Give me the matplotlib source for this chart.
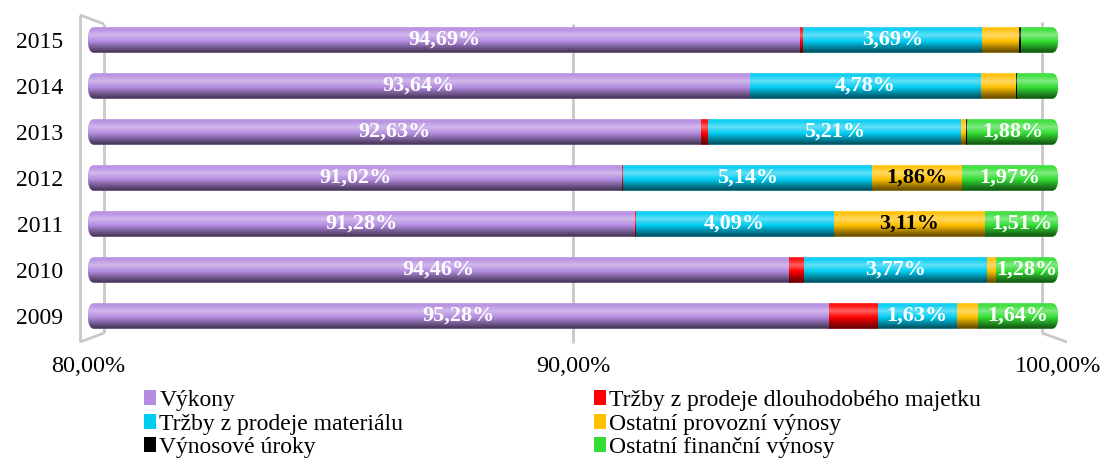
import numpy as np
import matplotlib
matplotlib.use('Agg')
import matplotlib.pyplot as plt
import matplotlib.colors as mcolors
from matplotlib.patches import FancyBboxPatch, Patch

years = ['2009', '2010', '2011', '2012', '2013', '2014', '2015']
vykony = [95.28, 94.46, 91.28, 91.02, 92.63, 93.64, 94.69]
trzby_dm = [1.00, 0.30, 0.01, 0.01, 0.16, 0.00, 0.05]
trzby_mat = [1.63, 3.77, 4.09, 5.14, 5.21, 4.78, 3.69]
ost_prov = [0.45, 0.19, 3.11, 1.86, 0.10, 0.71, 0.77]
uroky = [0.00, 0.00, 0.00, 0.00, 0.02, 0.03, 0.03]
ost_fin = [1.64, 1.28, 1.51, 1.97, 1.88, 0.84, 0.77]

series_names = ['Výkony', 'Tržby z prodeje dlouhodobého majetku', 'Tržby z prodeje materiálu',
                'Ostatní provozní výnosy', 'Výnosové úroky', 'Ostatní finanční výnosy']
series_vals = [vykony, trzby_dm, trzby_mat, ost_prov, uroky, ost_fin]
colors = ['#B48CE0', '#FF0000', '#00CCF2', '#FFC000', '#000000', '#33DD33']
label_colors = ['white', 'white', 'white', 'black', 'white', 'white']
tick_vals = [80, 90, 100]
tick_labels = ['80,00%', '90,00%', '100,00%']

FONT = 'Liberation Serif'
W, H = 1109, 459
fig = plt.figure(figsize=(W / 100, H / 100), dpi=100)

x_left, x_right = 88, 1058
ylo, yhi = -0.6, 6.6
y_top_px = 40 - 0.6 * 46
y_bot_px = 316 + 0.6 * 46
ax = fig.add_axes([x_left / W, 1 - y_bot_px / H, (x_right - x_left) / W, (y_bot_px - y_top_px) / H])
ax.set_xlim(80, 100)
ax.set_ylim(ylo, yhi)
for s in ax.spines.values():
    s.set_visible(False)

def px2x(px):
    return 80 + (px - x_left) / 48.5

def py2y(py):
    return (316 - py) / 46

# pseudo-3D frame (decoration)
fc = '#C8C8C8'
fr = dict(color=fc, lw=2.0, clip_on=False, zorder=0, solid_capstyle='butt')
ax.plot([px2x(80), px2x(80)], [py2y(15), py2y(342)], **fr)
ax.plot([px2x(104), px2x(104)], [py2y(24), py2y(333)], **fr)
ax.plot([px2x(80), px2x(104)], [py2y(15), py2y(24)], **fr)
ax.plot([px2x(80), px2x(104)], [py2y(342), py2y(333)], **fr)
ax.plot([px2x(573), px2x(573)], [py2y(24), py2y(343)], **fr)
ax.plot([px2x(1042), px2x(1042)], [py2y(22), py2y(333)], **fr)
ax.plot([px2x(1042), px2x(1067)], [py2y(333), py2y(342)], **fr)

stops_t = [0.0, 0.08, 0.3, 0.55, 0.8, 1.0]
stops_m = [0.15, 0.05, 0.38, 0.0, -0.38, -0.65]

def grad_img(color, n=64):
    rgb = np.array(mcolors.to_rgb(color))
    t = np.linspace(0, 1, n)
    m = np.interp(t, stops_t, stops_m)
    out = np.zeros((n, 1, 3))
    for i, mi in enumerate(m):
        if mi >= 0:
            out[i, 0] = rgb + (1 - rgb) * mi
        else:
            out[i, 0] = rgb * (1 + mi)
    return np.clip(out, 0, 1)

h = 0.55
y = np.arange(len(years))
left = np.zeros(len(years))
clips = []
for i in range(len(years)):
    cp = FancyBboxPatch((80, y[i] - h / 2), 20, h,
                        boxstyle='round,pad=0,rounding_size=0.12',
                        mutation_aspect=(h / 2) / 0.12, transform=ax.transData,
                        facecolor='none', edgecolor='none')
    ax.add_patch(cp)
    clips.append(cp)

for k, (name, vals) in enumerate(zip(series_names, series_vals)):
    bars = ax.barh(y, vals, left=left, height=h, color=colors[k], zorder=2, linewidth=0)
    for i, b in enumerate(bars):
        b.set_clip_path(clips[i])
        v = vals[i]
        if v <= 0:
            continue
        x0, x1 = left[i], left[i] + v
        im = ax.imshow(grad_img(colors[k]), extent=(x0, x1, y[i] - h / 2, y[i] + h / 2),
                       origin='upper', aspect='auto', interpolation='bilinear', zorder=3)
        im.set_clip_path(clips[i])
        if v >= 1.2:
            xc = (max(x0, 80) + x1) / 2
            ax.text(xc, y[i] + 0.0, f"{v:.2f}".replace('.', ',') + '%', ha='center', va='center',
                    color=label_colors[k], fontsize=16, fontweight='bold', family=FONT, zorder=5)
    left = left + np.array(vals)

ax.set_xlim(80, 100)
ax.set_ylim(ylo, yhi)
ax.set_yticks(y)
ax.set_yticklabels(years, family=FONT, fontsize=17)
ax.set_xticks(tick_vals)
ax.set_xticklabels(tick_labels, family=FONT, fontsize=17.5)
ax.tick_params(axis='y', length=0, pad=18)
ax.tick_params(axis='x', length=0, pad=9)

handles = [Patch(facecolor=c, edgecolor='none') for c in colors]
leg_kw = dict(loc='upper left', frameon=False, prop={'family': FONT, 'size': 17},
              handlelength=0.5, handleheight=0.6, handletextpad=0.15, labelspacing=0.11,
              borderpad=0, borderaxespad=0)
l1 = fig.legend([handles[0], handles[2], handles[4]], [series_names[0], series_names[2], series_names[4]],
                bbox_to_anchor=(144 / W, 1 - 390 / H), **leg_kw)
l2 = fig.legend([handles[1], handles[3], handles[5]], [series_names[1], series_names[3], series_names[5]],
                bbox_to_anchor=(594 / W, 1 - 390 / H), **leg_kw)

fig.savefig('out.png', dpi=100)
